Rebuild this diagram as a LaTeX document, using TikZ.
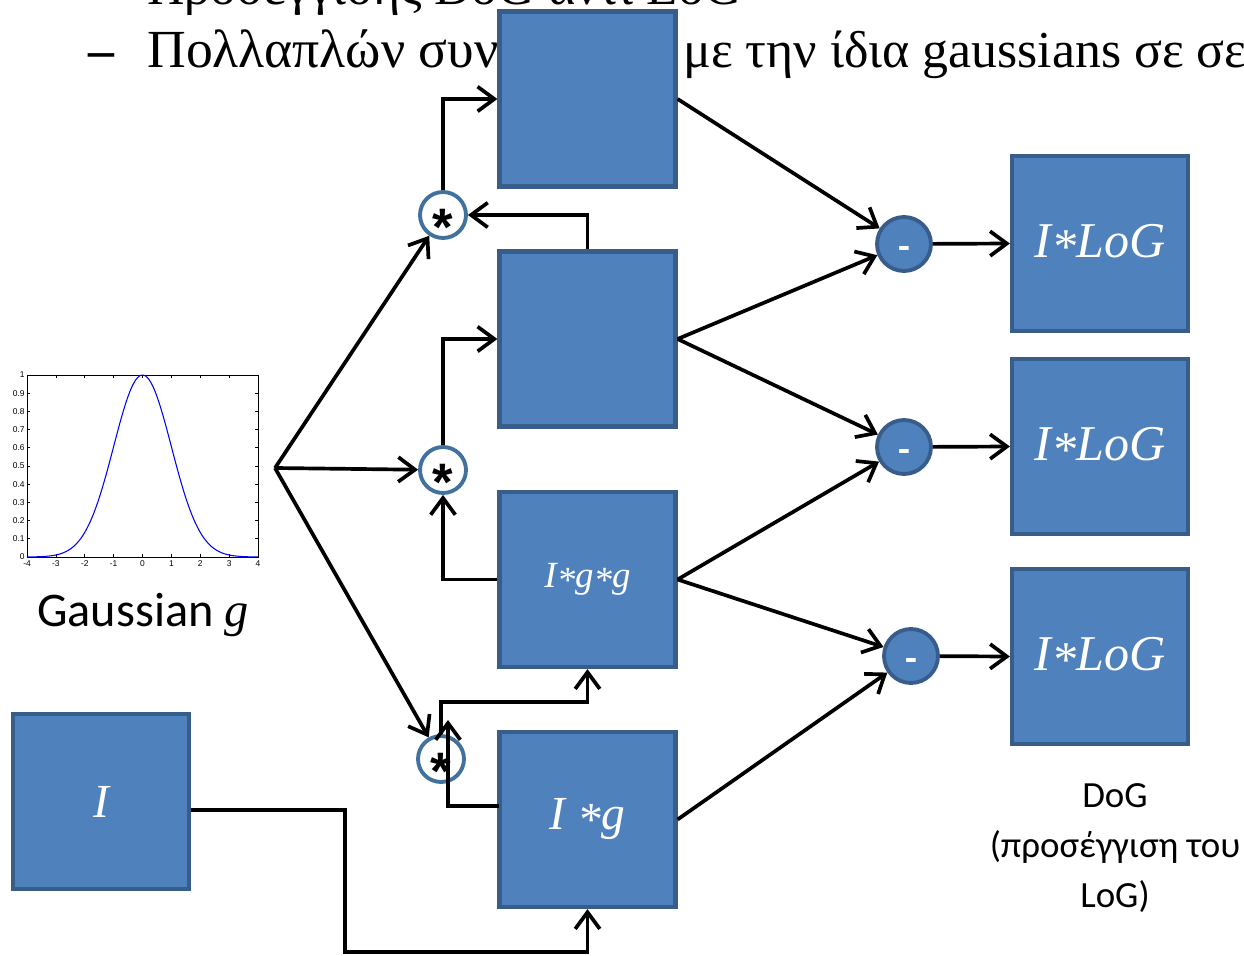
\documentclass[tikz,border=0pt]{standalone}
\usepackage{fontspec}
\setmainfont{Liberation Serif}
\newfontfamily\calib{Carlito}
\newfontfamily\lsans{Liberation Sans}
\usetikzlibrary{arrows.meta}
\definecolor{bfill}{HTML}{4F81BD}
\definecolor{bline}{HTML}{385D8A}
\definecolor{cline}{HTML}{41719C}
\newcommand\mystar{\raisebox{-0.12em}{*}}
\begin{document}
\begin{tikzpicture}[x=0.02cm,y=-0.02cm,
 blk/.style={draw=bline,fill=bfill,line width=2.4pt,minimum width=3.52cm,minimum height=3.5cm,inner sep=0pt,text=white,font=\itshape\fontsize{28.5}{28.5}\selectfont},
 conv/.style={circle,draw=cline,fill=white,line width=2.2pt,minimum size=0.92cm,inner sep=0pt,font=\lsans\bfseries\fontsize{30}{30}\selectfont},
 diff/.style={circle,draw=bline,fill=bfill,line width=2.2pt,minimum size=1.08cm,inner sep=0pt,text=white,font=\calib\bfseries\fontsize{22}{22}\selectfont},
 arr/.style={line width=2.1pt,-{Straight Barb[length=9.5pt,width=14pt]}},
 ttxt/.style={anchor=base west,inner sep=0pt,font=\fontsize{29.5}{29.5}\selectfont}
]
\useasboundingbox (0,0) rectangle (1244,956);
% header text
\node[ttxt] (t1) at (147,5) {Προσέγγισης DoG αντί LoG};
\node[ttxt,font=\bfseries\fontsize{29.5}{29.5}\selectfont] (dash) at (88,68) {–};
\node[ttxt,font=\fontsize{30.5}{30.5}\selectfont] (t2a) at (147,68) {Πολλαπλών συνελίξεις};
\node[ttxt] (t2b) at (683,68) {με την ίδια gaussians σε σειρά};
% gaussian plot
\draw[line width=0.5pt] (27,375) rectangle (258,557);
\foreach \i in {-4,...,4}{
  \draw[line width=0.4pt] ({142.5+28.875*\i},557) -- ++(0,-3);
  \draw[line width=0.4pt] ({142.5+28.875*\i},375) -- ++(0,3);
  \node[font=\lsans\fontsize{4.8}{5}\selectfont,inner sep=0pt] at ({142.5+28.875*\i},564) {\i};
}
\foreach \j/\l in {0/0,1/0.1,2/0.2,3/0.3,4/0.4,5/0.5,6/0.6,7/0.7,8/0.8,9/0.9,10/1}{
  \draw[line width=0.4pt] (27,{557-18.2*\j}) -- ++(3,0);
  \draw[line width=0.4pt] (258,{557-18.2*\j}) -- ++(-3,0);
  \node[font=\lsans\fontsize{4.8}{5}\selectfont,inner sep=0pt,anchor=east] at (25,{557-18.2*\j}) {\l};
}
\draw[blue,line width=0.6pt] plot[domain=-4:4,samples=120] ({142.5+28.875*\x},{557-182*exp(-(\x)*(\x)/2)});
\node[font=\calib\fontsize{27.5}{27.5}\selectfont,anchor=base,inner sep=0pt] (glab) at (143,626) {Gaussian {\normalfont\itshape g}};
\coordinate (fork) at (275,468);
% boxes
\node[blk] (b1) at (587.5,99) {};
\node[blk] (b2) at (587.5,339) {};
\node[blk,font=\itshape\fontsize{21}{21}\selectfont] (b3) at (587.5,579.5) {I\mystar g\mystar g};
\node[blk,font=\itshape\fontsize{27}{27}\selectfont] (b4) at (587.5,819.5) {I \mystar g};
\node[blk,font=\itshape\fontsize{27}{27}\selectfont] (bI) at (101,801.5) {I};
\node[blk] (r1) at (1100,243.5) {I\mystar LoG};
\node[blk] (r2) at (1100,446.5) {I\mystar LoG};
\node[blk] (r3) at (1100,656.5) {I\mystar LoG};
% circles
\node[conv] (c1) at (443,215) {\raisebox{-0.58em}[0pt][0pt]{*}};
\node[conv] (c2) at (443,470) {\raisebox{-0.58em}[0pt][0pt]{*}};
\node[conv] (c3) at (441,759) {\raisebox{-0.58em}[0pt][0pt]{*}};
\node[diff] (m1) at (904,244) {\raisebox{-0.4em}[0pt][0pt]{-}};
\node[diff] (m2) at (904,447) {\raisebox{-0.4em}[0pt][0pt]{-}};
\node[diff] (m3) at (911,656) {\raisebox{-0.4em}[0pt][0pt]{-}};
% caption
\node[font=\calib\fontsize{21}{28.5}\selectfont,align=center,anchor=north,inner sep=0pt] (dog) at (1115,783) {DoG\\(προσέγγιση του\\LoG)};
% connectors
\coordinate (kI) at (345,952);
\draw[arr] ([yshift=-0.17cm]bI.east) -| (kI) -| (b4.south);
\draw[arr] (fork) -- (c1);
\draw[arr] (fork) -- (c2);
\draw[arr] (fork) -- (c3);
\draw[arr] (c1.north) |- (b1.west);
\draw[arr] (b2.north) |- (c1.east);
\draw[arr] (c2.north) |- (b2.west);
\draw[arr] (b3.west) -| (c2.south);
\coordinate (k3) at (441,702);
\draw[arr] (c3.north) -- (k3) -| (b3.south);
\coordinate (k4a) at (499,806);
\coordinate (k4) at (448,720);
\draw[arr] (k4a) -| (k4);
\draw[arr] (b1.east) -- (m1);
\draw[arr] (b2.east) -- (m1);
\draw[arr] (b2.east) -- (m2);
\draw[arr] (b3.east) -- (m2);
\draw[arr] (b3.east) -- (m3);
\draw[arr] (b4.east) -- (m3);
\draw[arr] (m1) -- (r1.west);
\draw[arr] (m2) -- (r2.west);
\draw[arr] (m3) -- (r3.west);
\end{tikzpicture}
\end{document}
